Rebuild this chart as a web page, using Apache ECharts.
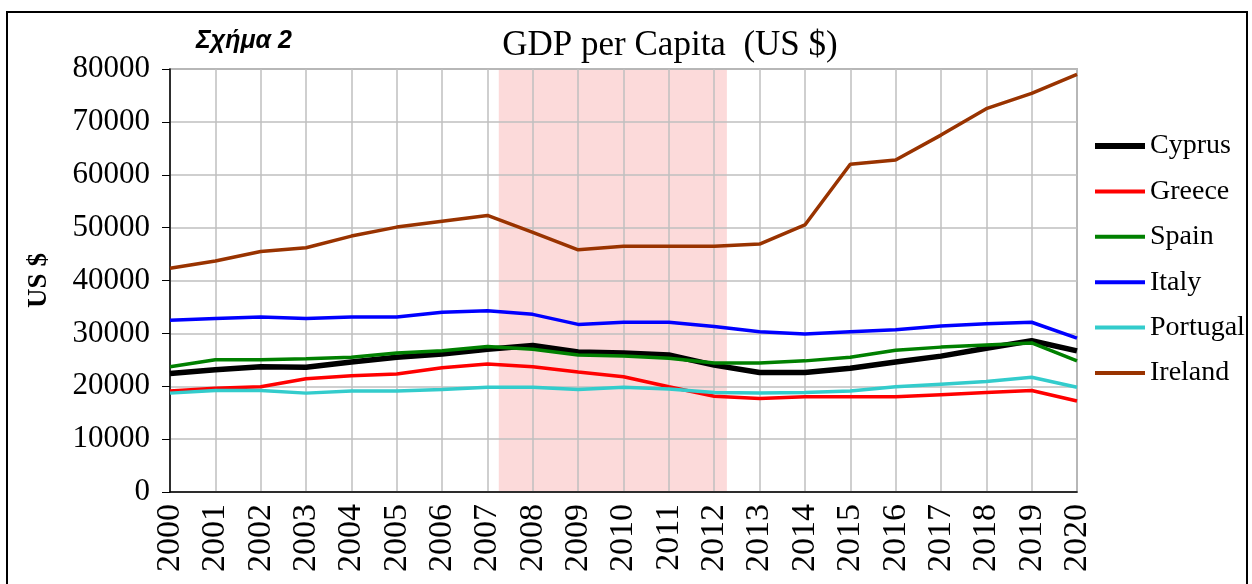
<!DOCTYPE html>
<html>
<head>
<meta charset="utf-8">
<script src="https://cdn.jsdelivr.net/npm/echarts@6/dist/echarts.min.js"></script>
<style>
  html, body { margin: 0; padding: 0; background: #fff; }
  #chart { width: 1252px; height: 584px; }
</style>
</head>
<body>
<div id="chart"></div>
<script>
// data
const years = [2000, 2001, 2002, 2003, 2004, 2005, 2006, 2007, 2008, 2009, 2010,
  2011, 2012, 2013, 2014, 2015, 2016, 2017, 2018, 2019, 2020];
const cyprus = [22400, 23100, 23700, 23600, 24600, 25500, 26100, 27000, 27700, 26500, 26300,
  25900, 24000, 22600, 22600, 23400, 24600, 25700, 27200, 28600, 26700];
const greece = [19100, 19600, 19900, 21400, 22000, 22300, 23500, 24200, 23700, 22700, 21800,
  19900, 18100, 17700, 18000, 18000, 18000, 18400, 18800, 19200, 17200];
const spain = [23700, 25000, 25000, 25200, 25500, 26300, 26700, 27500, 27000, 25900, 25700,
  25300, 24400, 24400, 24800, 25500, 26800, 27400, 27800, 28200, 24800];
const italy = [32500, 32800, 33100, 32800, 33100, 33100, 34000, 34300, 33600, 31700, 32100,
  32100, 31300, 30300, 29900, 30300, 30700, 31400, 31800, 32100, 29100];
const portugal = [18700, 19200, 19200, 18700, 19100, 19100, 19400, 19800, 19800, 19400, 19800,
  19500, 18800, 18700, 18800, 19100, 19900, 20400, 20900, 21700, 19800];
const ireland = [42300, 43700, 45500, 46200, 48400, 50100, 51200, 52300, 49100, 45800, 46500,
  46500, 46500, 46900, 50500, 62000, 62800, 67500, 72500, 75400, 79000];
const crisisFrom = 2007.25;
const crisisTo = 2012.28;

const serif = '"Liberation Serif", "Times New Roman", serif';

function pairs(vals) {
  return years.map((y, i) => [y, vals[i]]);
}

const seriesDefs = [
  { name: 'Cyprus', data: cyprus, color: '#000000', width: 5.5 },
  { name: 'Greece', data: greece, color: '#ff0000', width: 3.5 },
  { name: 'Spain', data: spain, color: '#008000', width: 3.5 },
  { name: 'Italy', data: italy, color: '#0000ff', width: 3.5 },
  { name: 'Portugal', data: portugal, color: '#33cccc', width: 3.5 },
  { name: 'Ireland', data: ireland, color: '#993300', width: 3.5 },
];

const series = [
  {
    name: 'crisis',
    type: 'line',
    data: [],
    markArea: {
      silent: true,
      z: -1,
      itemStyle: { color: 'rgba(245,120,120,0.27)' },
      data: [[{ xAxis: crisisFrom }, { xAxis: crisisTo }]],
    },
  },
];
seriesDefs.forEach((s) => {
  series.push({
    name: s.name,
    type: 'line',
    data: pairs(s.data),
    symbol: 'none',
    color: s.color,
    lineStyle: { width: s.width, color: s.color },
    z: 3,
  });
});

const option = {
  animation: false,
  backgroundColor: '#fff',
  title: {
    text: 'GDP per Capita  (US $)',
    left: 665,
    top: 23,
    textAlign: 'center',
    textStyle: { fontFamily: serif, fontSize: 35, fontWeight: 'normal', color: '#000' },
  },
  graphic: [
    {
      type: 'rect',
      shape: { x: 7, y: 12, width: 1240, height: 600 },
      style: { fill: 'none', stroke: '#000', lineWidth: 2 },
      silent: true,
    },
    {
      type: 'text',
      left: 196,
      top: 29,
      style: {
        text: 'Σχήμα 2',
        font: 'italic bold 25px "Liberation Sans", Arial, sans-serif',
        fill: '#000',
      },
    },
  ],
  legend: {
    data: seriesDefs.map((s) => ({
      name: s.name,
      lineStyle: { width: s.name === 'Cyprus' ? 6 : 4 },
    })),
    orient: 'vertical',
    left: 1092,
    top: 132,
    padding: 0,
    itemWidth: 50,
    itemHeight: 14,
    itemGap: 17.4,
    itemStyle: { opacity: 0 },
    textStyle: { fontFamily: serif, fontSize: 28, color: '#000' },
  },
  grid: {
    left: 170, right: 175, top: 69, bottom: 92,
    show: true, borderColor: '#808080', borderWidth: 1.5,
  },
  xAxis: {
    type: 'value',
    min: 2000,
    max: 2020,
    interval: 1,
    axisLine: { lineStyle: { color: '#000', width: 1.5 } },
    axisTick: { show: false },
    splitLine: { show: true, lineStyle: { color: '#bfbfbf', width: 1.5 } },
    axisLabel: {
      rotate: 90,
      margin: 12,
      fontFamily: serif,
      fontSize: 34,
      color: '#000',
      formatter: (v) => String(v),
    },
  },
  yAxis: {
    type: 'value',
    min: 0,
    max: 80000,
    interval: 10000,
    name: 'US $',
    nameLocation: 'middle',
    nameRotate: 90,
    nameGap: 117,
    nameTextStyle: { fontFamily: serif, fontSize: 27, fontWeight: 'bold', color: '#000' },
    axisLine: { show: true, lineStyle: { color: '#000', width: 1.5 } },
    axisTick: { show: true, length: 8, lineStyle: { color: '#000' } },
    splitLine: { show: true, lineStyle: { color: '#bfbfbf', width: 1.5 } },
    axisLabel: {
      margin: 20,
      fontFamily: serif,
      fontSize: 31,
      color: '#000',
      formatter: (v) => String(v),
    },
  },
  series: series,
};

const myChart = echarts.init(document.getElementById('chart'));
myChart.setOption(option);
</script>
</body>
</html>
